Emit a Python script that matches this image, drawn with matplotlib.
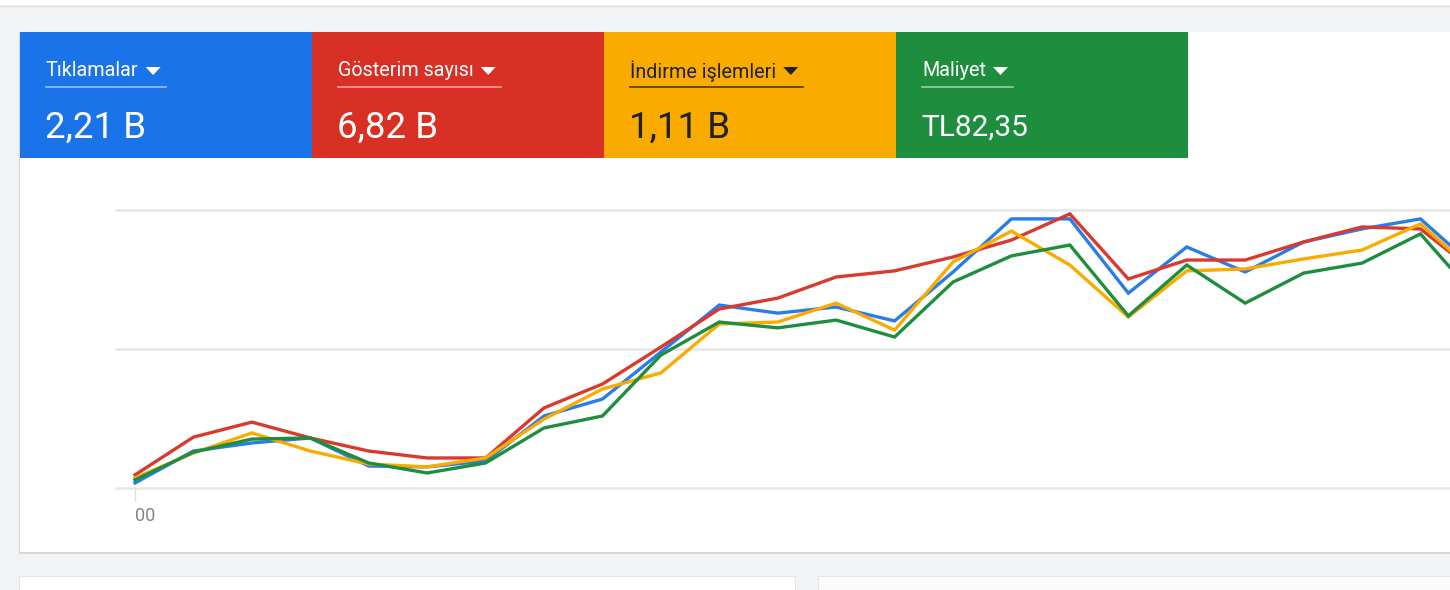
import matplotlib
matplotlib.use('Agg')
import matplotlib.pyplot as plt
from matplotlib.patches import Rectangle, Polygon

plt.rcParams['font.family'] = ['Roboto', 'DejaVu Sans']

# header tiles
tile_labels = ['Tıklamalar', 'Gösterim sayısı', 'İndirme işlemleri', 'Maliyet']
tile_values = ['2,21 B', '6,82 B', '1,11 B', 'TL82,35']
tile_colors = ['#1a73e8', '#d93025', '#f9ab00', '#1e8e3e']
text_colors = ['white', 'white', '#202124', 'white']
line_colors = ['#2a7de9', '#d93a2e', '#f9ab00', '#1e8e3e']

# series, relative scale (gridlines at 0, 50, 100)
tiklamalar = [1.8, 13.3, 16.2, 18.0, 7.9, 7.6, 9.7, 25.9, 32.0, 48.9, 65.8, 62.9,
              65.1, 60.1, 77.7, 96.8, 96.8, 70.1, 86.7, 77.7, 88.5, 93.2, 96.8, 78.1]
gosterim = [4.7, 18.3, 23.7, 18.0, 13.3, 10.8, 10.8, 28.8, 37.4, 50.7, 64.4, 68.3,
            75.9, 78.1, 83.1, 89.2, 98.6, 75.2, 82.0, 82.0, 88.5, 93.9, 93.2, 76.6]
indirme = [3.6, 12.6, 19.8, 13.3, 8.6, 7.6, 10.8, 24.8, 35.6, 41.4, 59.0, 59.7,
           66.5, 56.8, 81.3, 92.4, 80.2, 61.5, 78.1, 78.8, 82.4, 85.6, 95.0, 76.3]
maliyet = [2.9, 12.9, 17.6, 18.0, 9.0, 5.4, 9.0, 21.6, 25.9, 47.8, 59.7, 57.6,
           60.4, 54.3, 74.1, 83.5, 87.4, 61.9, 80.2, 66.5, 77.3, 80.9, 91.4, 67.6]
series = [tiklamalar, gosterim, indirme, maliyet]
grid_values = [0, 50, 100]
x_tick_labels = ['00']

W, H = 1450, 590
fig = plt.figure(figsize=(W / 100, H / 100), dpi=100)
fig.patch.set_facecolor('#f1f3f4')

# page layer in pixel coordinates
bg = fig.add_axes([0, 0, 1, 1])
bg.set_xlim(0, W)
bg.set_ylim(H, 0)
bg.axis('off')

bg.add_patch(Rectangle((0, 0), W, 5, color='white', lw=0))
bg.plot([0, W], [5.5, 5.5], color='#dadce0', lw=1)

# main card with shadow
bg.add_patch(Rectangle((19, 33), W, 521, color='#d5d7da', lw=0))
bg.add_patch(Rectangle((20, 32), W, 520, color='white', lw=0))
# lower cards
bg.add_patch(Rectangle((19, 576), 777, 20, color='#e3e4e6', lw=0))
bg.add_patch(Rectangle((20, 577), 775, 20, color='white', lw=0))
bg.add_patch(Rectangle((818, 576), W, 20, color='#e3e4e6', lw=0))
bg.add_patch(Rectangle((819, 577), W, 20, color='#fbfbfb', lw=0))

renderer = fig.canvas.get_renderer()
tile_w = 292
for i, (lab, val) in enumerate(zip(tile_labels, tile_values)):
    x0 = 20 + i * tile_w
    bg.add_patch(Rectangle((x0, 32), tile_w, 126, color=tile_colors[i], lw=0))
    t = bg.text(x0 + 26, 71, lab, color=text_colors[i], fontsize=14.2,
                va='center', ha='left')
    bb = t.get_window_extent(renderer)
    tx = bb.x1 + 7
    bg.add_patch(Polygon([(tx, 67), (tx + 15, 67), (tx + 7.5, 75)],
                         closed=True, color=text_colors[i], lw=0))
    uline = 'white' if text_colors[i] == 'white' else '#3c3000'
    bg.plot([x0 + 26, tx + 20], [86.5, 86.5], color=uline,
            alpha=0.55 if uline == 'white' else 0.9, lw=1.2)
    size = 26.5 if i < 3 else 21.5
    bg.text(x0 + 25, 128, val, color=text_colors[i], fontsize=size,
            va='center', ha='left')

# chart
px0, px1 = 116, W
py_top, py_bot = 195, 488
ax = fig.add_axes([px0 / W, 1 - py_bot / H, (px1 - px0) / W, (py_bot - py_top) / H])
ax.set_facecolor('none')
step = 58.43
ax.set_xlim(-(135 - px0) / step, (px1 - 135) / step)
ax.set_ylim(0, (488 - py_top) / 2.78)
for g in grid_values:
    ax.axhline(g, color='#e6e6e6', lw=1.8, zorder=1, clip_on=False)
x = list(range(len(tiklamalar)))
for s, c in zip(series, line_colors):
    ax.plot(x, s, color=c, lw=2.4, zorder=3, solid_joinstyle='miter', clip_on=False)
ax.set_xlim(-(135 - px0) / step, (px1 - 135) / step)
for sp in ax.spines.values():
    sp.set_visible(False)
ax.set_yticks([])
ax.set_xticks([0])
ax.set_xticklabels(x_tick_labels, ha='left')
ax.tick_params(axis='x', length=9, width=1, color='#e0e0e0', labelcolor='#80868b',
               labelsize=13, pad=5)

fig.savefig('out.png', dpi=100, facecolor=fig.get_facecolor())
